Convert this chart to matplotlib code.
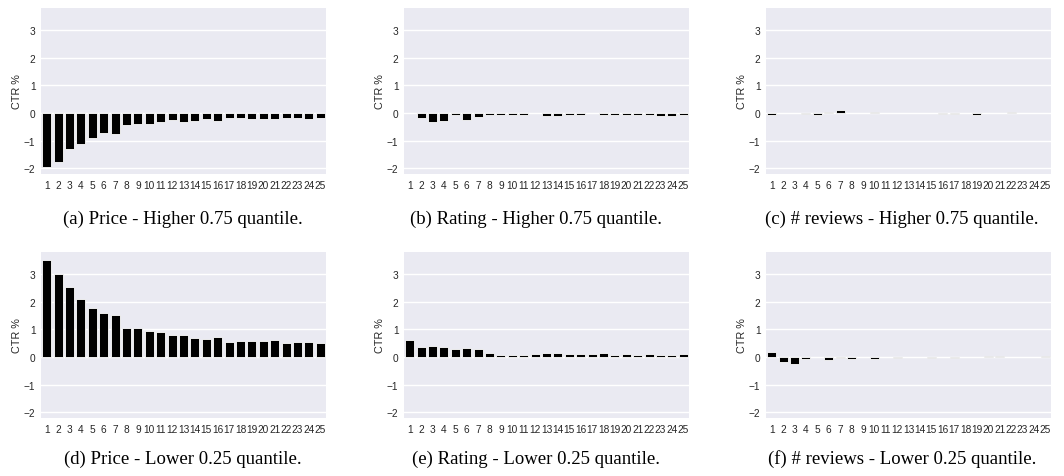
import matplotlib
matplotlib.use("Agg")
import matplotlib.pyplot as plt
import numpy as np

positions = [str(i) for i in range(1, 26)]

price_high = [-1.95, -1.75, -1.31, -1.13, -0.89, -0.71, -0.75, -0.43, -0.41, -0.39,
              -0.33, -0.25, -0.33, -0.28, -0.22, -0.27, -0.17, -0.19, -0.22, -0.23,
              -0.20, -0.18, -0.19, -0.22, -0.19]
rating_high = [0.01, -0.18, -0.33, -0.27, -0.08, -0.24, -0.14, -0.08, -0.07, -0.08,
               -0.08, 0.0, -0.12, -0.10, -0.05, -0.06, 0.0, -0.08, -0.05, -0.08,
               -0.07, -0.05, -0.10, -0.09, -0.08]
reviews_high = [-0.06, 0.01, 0.0, -0.03, -0.08, 0.03, 0.10, 0.01, 0.0, 0.03,
                -0.01, 0.01, 0.01, 0.02, 0.02, -0.02, -0.02, 0.01, -0.05, 0.01,
                0.01, 0.03, 0.0, -0.01, 0.0]
price_low = [3.52, 3.00, 2.52, 2.11, 1.77, 1.59, 1.54, 1.06, 1.07, 0.95,
             0.91, 0.80, 0.80, 0.70, 0.67, 0.73, 0.53, 0.60, 0.60, 0.57,
             0.61, 0.51, 0.55, 0.56, 0.50]
rating_low = [0.63, 0.36, 0.39, 0.36, 0.30, 0.32, 0.29, 0.15, 0.06, 0.07,
              0.07, 0.11, 0.15, 0.15, 0.12, 0.12, 0.10, 0.15, 0.07, 0.13,
              0.09, 0.11, 0.06, 0.07, 0.11]
reviews_low = [0.18, -0.18, -0.26, -0.07, -0.01, -0.12, -0.04, -0.08, 0.01, -0.05,
               -0.01, -0.02, -0.01, 0.01, -0.03, 0.01, -0.02, 0.01, 0.01, 0.03,
               0.03, 0.02, 0.01, -0.01, 0.03]

captions = ["(a) Price - Higher 0.75 quantile.",
            "(b) Rating - Higher 0.75 quantile.",
            "(c) # reviews - Higher 0.75 quantile.",
            "(d) Price - Lower 0.25 quantile.",
            "(e) Rating - Lower 0.25 quantile.",
            "(f) # reviews - Lower 0.25 quantile."]
series = [price_high, rating_high, reviews_high, price_low, rating_low, reviews_low]
yticks = [-2, -1, 0, 1, 2, 3]

W, H = 1064, 477
fig = plt.figure(figsize=(W / 100, H / 100), dpi=100)

lefts = [41, 404, 766]
tops = [9, 253]
aw, ah = 285, 166
cap_x = [183, 536, 902]
cap_y = [219, 459]

for idx, (vals, cap) in enumerate(zip(series, captions)):
    r, c = divmod(idx, 3)
    ax = fig.add_axes([lefts[c] / W, 1 - (tops[r] + ah) / H, aw / W, ah / H])
    ax.set_facecolor("#EAEAF2")
    for s in ax.spines.values():
        s.set_visible(False)
    ax.set_axisbelow(True)
    ax.yaxis.grid(True, color="white", linewidth=1.0)
    ax.xaxis.grid(False)
    x = np.arange(len(positions))
    ax.bar(x, vals, width=0.8, color="black", edgecolor="white", linewidth=0.6)
    ax.set_xlim(-0.5, len(positions) - 0.5)
    ax.set_ylim(-2.2, 3.8)
    ax.set_xticks(x)
    ax.set_xticklabels(positions, family="Liberation Sans")
    ax.set_yticks(yticks)
    ax.set_yticklabels([str(v).replace("-", "\u2212") for v in yticks],
                       family="Liberation Sans")
    ax.tick_params(axis="both", length=0, labelsize=7.3, colors="#262626", pad=4)
    ax.set_ylabel("CTR %", fontsize=7.8, color="#262626", labelpad=1.5,
                  family="Liberation Sans")
    fig.text(cap_x[c] / W, 1 - cap_y[r] / H, cap, ha="center", va="center",
             fontsize=13.5, family="Liberation Serif", color="black")

fig.savefig("out.png", dpi=100)
